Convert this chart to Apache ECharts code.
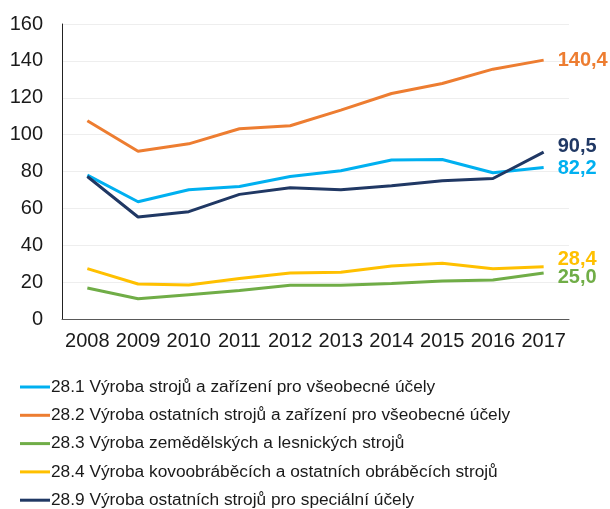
<!DOCTYPE html>
<html>
<head>
<meta charset="utf-8">
<script src="https://cdn.jsdelivr.net/npm/echarts@6/dist/echarts.min.js"></script>
<style>
  html, body { margin: 0; padding: 0; background: #fff; }
  #chart { width: 610px; height: 509px; }
</style>
</head>
<body>
<div id="chart"></div>
<script>
const years = ['2008', '2009', '2010', '2011', '2012', '2013', '2014', '2015', '2016', '2017']

const names = [
  '28.1 Výroba strojů a zařízení pro všeobecné účely',
  '28.2 Výroba ostatních strojů a zařízení pro všeobecné účely',
  '28.3 Výroba zemědělských a lesnických strojů',
  '28.4 Výroba kovoobráběcích a ostatních obráběcích strojů',
  '28.9 Výroba ostatních strojů pro speciální účely'
]

const s281 = [78.0, 63.6, 70.1, 71.9, 77.3, 80.4, 86.2, 86.5, 79.3, 82.2]
const s282 = [107.5, 91.0, 95.0, 103.2, 104.8, 113.3, 122.3, 127.7, 135.5, 140.4]
const s283 = [16.8, 11.0, 13.2, 15.4, 18.3, 18.3, 19.3, 20.6, 21.1, 25.0]
const s284 = [27.3, 19.0, 18.4, 22.0, 24.9, 25.3, 28.7, 30.2, 27.3, 28.4]
const s289 = [77.3, 55.3, 58.2, 67.6, 71.2, 70.1, 72.3, 75.0, 76.2, 90.5]

const colors = ['#00B0F0', '#ED7D31', '#70AD47', '#FFC000', '#203864']
const labelOffsets = [[0, 1], [0, 0], [0, 5], [0, -7], [0, -6]]

const chart = echarts.init(document.getElementById('chart'))

const makeSeries = (name, data, i) => ({
  name: name,
  type: 'line',
  data: data,
  symbol: 'none',
  lineStyle: { width: 3, color: colors[i] },
  itemStyle: { color: colors[i] },
  endLabel: {
    show: true,
    distance: 14,
    offset: labelOffsets[i],
    formatter: p => p.value.toFixed(1).replace('.', ','),
    color: colors[i],
    fontFamily: 'Liberation Sans',
    fontWeight: 'bold',
    fontSize: 20
  }
})

const allData = [s281, s282, s283, s284, s289]

const option = {
  animation: false,
  color: colors,
  grid: { left: 62, right: 41, top: 24, bottom: 190 },
  legend: {
    orient: 'vertical',
    left: 20,
    top: 378,
    height: 200,
    padding: 0,
    itemWidth: 30,
    itemHeight: 14,
    itemGap: 10.3,
    icon: 'path://M0,6 L30,6 L30,9 L0,9 Z',
    textStyle: {
      fontFamily: 'Liberation Sans',
      fontSize: 17.3,
      lineHeight: 18,
      color: '#1a1a1a',
      padding: [0, 0, 0, -4]
    },
    data: names
  },
  xAxis: {
    type: 'category',
    data: years,
    axisLine: { lineStyle: { color: '#595959', width: 1 } },
    axisTick: { show: false },
    axisLabel: {
      interval: 0,
      fontFamily: 'Liberation Sans',
      fontSize: 20,
      color: '#1a1a1a',
      margin: 12
    }
  },
  yAxis: {
    type: 'value',
    min: 0,
    max: 160,
    interval: 20,
    axisLine: { show: true, lineStyle: { color: '#222', width: 1 } },
    axisTick: { show: false },
    splitLine: { lineStyle: { color: '#eeeeee' } },
    axisLabel: {
      fontFamily: 'Liberation Sans',
      fontSize: 20,
      color: '#1a1a1a',
      margin: 19
    }
  },
  series: names.map((n, i) => makeSeries(n, allData[i], i))
}

chart.setOption(option)
</script>
</body>
</html>
